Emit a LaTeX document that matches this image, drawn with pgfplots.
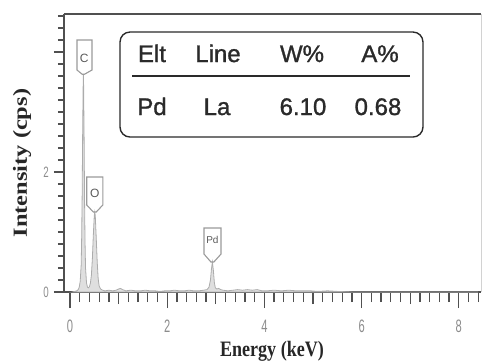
\documentclass[border=0pt]{standalone}
\usepackage{fontspec}
\setmainfont{Liberation Serif}
\newfontfamily\arial{Liberation Sans}
\newfontfamily\arialtab[FakeBold=1.2]{Liberation Sans}
\usepackage{graphicx}
\usepackage{pgfplots}
\pgfplotsset{compat=1.18}
\definecolor{frame}{HTML}{505050}
\definecolor{tickgray}{HTML}{8C8C8C}
\definecolor{txt}{HTML}{2A2A2A}
\definecolor{boxgray}{HTML}{9A9A9A}
\newcommand\tlx[1]{\scalebox{0.62}[1]{#1}}
\newcommand\tly[1]{\scalebox{0.65}[1]{#1}}
\pgfplotstableread{
x y
0.05 0.00
0.10 0.01
0.14 0.02
0.17 0.04
0.19 0.08
0.21 0.18
0.23 0.45
0.24 0.9
0.25 1.6
0.26 2.6
0.27 3.4
0.275 3.63
0.28 3.45
0.29 2.6
0.30 1.5
0.31 0.8
0.32 0.4
0.34 0.15
0.36 0.08
0.38 0.07
0.40 0.09
0.42 0.15
0.44 0.28
0.46 0.55
0.48 0.95
0.50 1.28
0.51 1.333
0.52 1.27
0.54 0.9
0.56 0.5
0.58 0.22
0.60 0.10
0.63 0.05
0.67 0.03
0.72 0.02
0.80 0.03
0.88 0.02
0.95 0.03
1.00 0.05
1.04 0.06
1.08 0.04
1.15 0.02
1.25 0.03
1.35 0.02
1.45 0.02
1.55 0.03
1.65 0.02
1.75 0.02
1.85 0.01
1.95 0.02
2.05 0.02
2.15 0.03
2.25 0.02
2.35 0.02
2.45 0.03
2.55 0.02
2.65 0.02
2.75 0.03
2.82 0.04
2.86 0.08
2.89 0.20
2.91 0.38
2.93 0.50
2.95 0.36
2.97 0.16
2.99 0.07
3.02 0.05
3.06 0.06
3.10 0.04
3.15 0.03
3.25 0.02
3.35 0.03
3.45 0.04
3.55 0.03
3.65 0.04
3.75 0.03
3.85 0.04
3.95 0.02
4.05 0.02
4.20 0.03
4.35 0.02
4.50 0.03
4.65 0.02
4.80 0.02
4.95 0.02
5.10 0.01
5.30 0.02
5.50 0.01
5.80 0.00
6.50 0.00
7.50 0.00
8.40 0.00
}\spectrum
\begin{document}
\begin{tikzpicture}
\begin{axis}[
  name=main,
  scale only axis, width=417pt, height=278pt,
  xmin=-0.1235, xmax=8.4568, ymin=0, ymax=4.6333,
  axis lines=left, hide y axis, clip=false,
  axis line style={-, draw=frame, line width=1.6pt},
  every outer x axis line/.append style={-},
  tick align=outside,
  major tick length=16pt, minor tick length=10pt,
  tick style={draw=frame, line width=1.3pt},
  xtick={0,2,4,6,8},
  xticklabels={\tlx{0},\tlx{2},\tlx{4},\tlx{6},\tlx{8}},
  minor xtick={0,0.2,...,8.41},
  extra x ticks={1,3,5,7}, extra x tick labels={},
  extra x tick style={major tick length=12pt},
  xticklabel style={font=\arial\fontsize{18}{18}\selectfont, text=tickgray, anchor=center, inner sep=0pt, yshift=-18pt},
  xlabel={\scalebox{0.82}[1]{Energy (keV)}},
  every axis x label/.style={at={(axis cs:4.156,-0.98)}, anchor=center, font=\bfseries\fontsize{22}{24}\selectfont, text=black!85},
]
\addplot[fill=gray!25, draw=gray!65, line width=0.8pt] table[x=x,y=y] {\spectrum} \closedcycle;
% frame top and right
\draw[frame, line width=1.6pt] (rel axis cs:0,1) -- (rel axis cs:1,1);
\draw[gray!35, line width=1pt] (rel axis cs:1,1) -- (rel axis cs:1,0);
% element callouts
\draw[boxgray, line width=1.1pt] (axis cs:0.144,4.20) -- (axis cs:0.453,4.20) -- (axis cs:0.453,3.70) -- (axis cs:0.30,3.63) -- (axis cs:0.25,3.63) -- (axis cs:0.144,3.70) -- cycle;
\node[text=gray!70!black, font=\arial\fontsize{12}{12}\selectfont] at (axis cs:0.29,3.9) {C};
\draw[boxgray, line width=1.1pt] (axis cs:0.345,1.917) -- (axis cs:0.675,1.917) -- (axis cs:0.675,1.45) -- (axis cs:0.54,1.333) -- (axis cs:0.48,1.333) -- (axis cs:0.345,1.45) -- cycle;
\node[text=gray!70!black, font=\arial\fontsize{12}{12}\selectfont] at (axis cs:0.51,1.65) {O};
\draw[boxgray, line width=1.1pt] (axis cs:2.757,1.067) -- (axis cs:3.107,1.067) -- (axis cs:3.107,0.633) -- (axis cs:2.96,0.50) -- (axis cs:2.90,0.50) -- (axis cs:2.757,0.633) -- cycle;
\node[text=gray!70!black, font=\arial\fontsize{10}{10}\selectfont] at (axis cs:2.93,0.87) {Pd};
% inset table
\draw[txt, line width=1.4pt, rounded corners=10pt] (axis cs:1.029,4.333) rectangle (axis cs:7.263,2.583);
\draw[txt, line width=1.8pt] (axis cs:1.276,3.60) -- (axis cs:6.996,3.60);
\begin{scope}[every node/.style={anchor=base, text=txt, inner sep=0pt, font=\arialtab\fontsize{24}{24}\selectfont}]
\node at (axis cs:1.687,3.833) {Elt};
\node at (axis cs:3.045,3.833) {Line};
\node at (axis cs:4.774,3.833) {W\%};
\node at (axis cs:6.379,3.833) {A\%};
\node at (axis cs:1.687,2.95) {Pd};
\node at (axis cs:3.025,2.95) {La};
\node at (axis cs:4.794,2.95) {6.10};
\node at (axis cs:6.337,2.95) {0.68};
\end{scope}
\coordinate (bbsw) at (axis cs:-1.4403,-1.1833);
\coordinate (bbne) at (axis cs:8.4774,4.8667);
\end{axis}
\begin{axis}[
  scale only axis, width=417pt, height=278pt,
  xmin=-0.1235, xmax=8.4568, ymin=0, ymax=4.6333,
  axis lines=left, hide x axis, clip=false,
  axis line style={-, draw=frame, line width=1.6pt},
  every outer y axis line/.append style={-},
  tick align=outside,
  major tick length=10pt, minor tick length=6pt,
  tick style={draw=frame, line width=1.3pt},
  ytick={0,2,4}, yticklabels={\tly{0},\tly{2},{}},
  minor ytick={0,0.2,...,4.61},
  yticklabel style={font=\arial\fontsize{15}{15}\selectfont, text=tickgray, anchor=center, inner sep=0pt, xshift=-8pt},
  ylabel={\scalebox{1.22}[1]{Intensity (cps)}},
  every axis y label/.style={at={(axis cs:-0.988,2.15)}, rotate=90, anchor=center, font=\bfseries\fontsize{20}{24}\selectfont, text=black!85},
]
\end{axis}
\pgfresetboundingbox
\useasboundingbox (bbsw) rectangle (bbne);
\end{tikzpicture}
\end{document}
